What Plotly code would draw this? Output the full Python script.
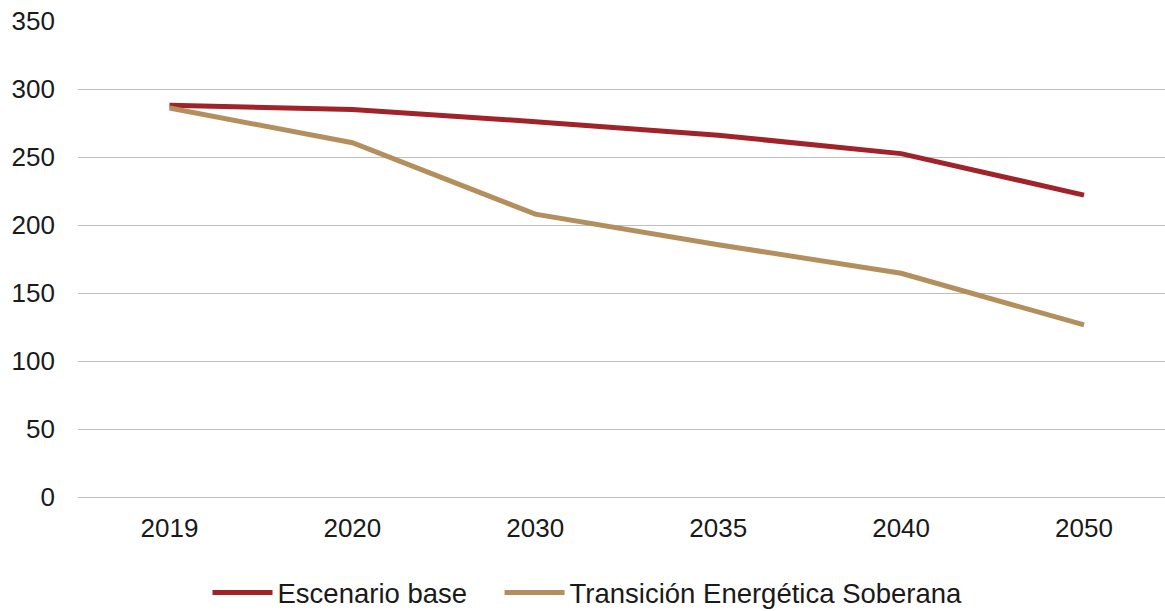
import plotly.graph_objects as go

categories = ["2019", "2020", "2030", "2035", "2040", "2050"]
escenario_base = [288, 285, 276, 266, 252.5, 222]
transicion = [286, 260.5, 208, 185.5, 164.5, 126.5]
series_names = ["Escenario base", "Transición Energética Soberana"]
y_ticks = [0, 50, 100, 150, 200, 250, 300, 350]

RED = "#A0232A"
TAN = "#B48F5E"
FONT = "Liberation Sans, Arial, sans-serif"

fig = go.Figure()
fig.add_trace(go.Scatter(x=list(range(len(categories))), y=escenario_base, mode="lines",
                         name=series_names[0] + "\u2003", line=dict(color=RED, width=5)))
fig.add_trace(go.Scatter(x=list(range(len(categories))), y=transicion, mode="lines",
                         name=series_names[1], line=dict(color=TAN, width=5)))

W, H = 1165, 611
left = 77.5
band = 183.0
plot_right = 1165
right_units = (plot_right - left) / band - 0.5
top_px = 21
bottom_px = 497

fig.update_layout(
    width=W, height=H,
    margin=dict(l=left, r=W - plot_right, t=top_px, b=H - bottom_px, autoexpand=False),
    plot_bgcolor="white", paper_bgcolor="white",
    font=dict(family=FONT, size=26, color="#1a1a1a"),
    showlegend=True,
    legend=dict(orientation="h", x=587.5 / W, xanchor="center", xref="container",
                y=1 - 592.5 / H, yanchor="middle", yref="container",
                font=dict(size=27.5, family=FONT), itemwidth=60,
                tracegroupgap=0, bgcolor="rgba(0,0,0,0)"),
    xaxis=dict(range=[-0.5, right_units], tickmode="array",
               tickvals=list(range(len(categories))), ticktext=categories,
               showgrid=False, zeroline=False, showline=False, ticks="",
               ticklabelstandoff=13, fixedrange=True),
    yaxis=dict(range=[0, 350], tickmode="array", tickvals=y_ticks,
               showgrid=True, gridcolor="#BFBFBF", gridwidth=1,
               zeroline=True, zerolinecolor="#BFBFBF", zerolinewidth=1,
               showline=False, ticks="", ticklabelstandoff=22, fixedrange=True),
)

fig.write_html("out.html", config={"displayModeBar": False},
               post_script="document.body.style.margin='0px';document.body.style.padding='0px';")
